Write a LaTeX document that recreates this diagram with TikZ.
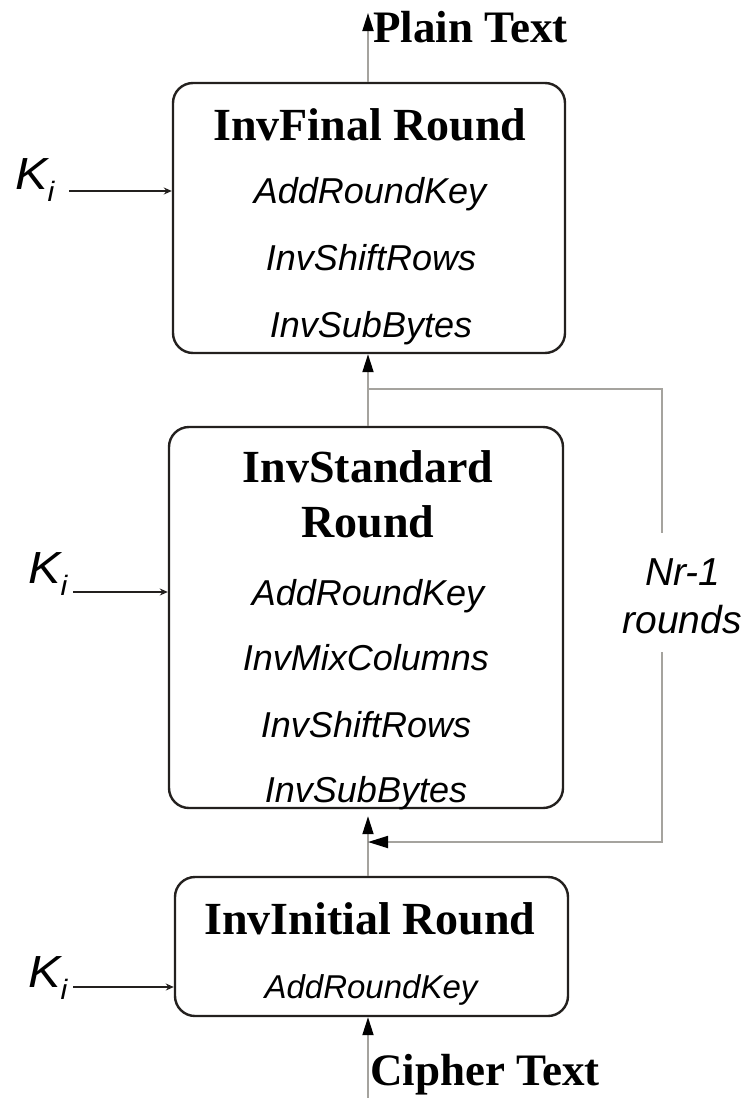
\documentclass[tikz,border=0pt]{standalone}
\usepackage{fontspec}
\setmainfont{Liberation Serif}
\newfontfamily\opfont{Liberation Sans}
\newfontfamily\keyfont{Liberation Sans}[FakeStretch=1.08]
\usetikzlibrary{arrows.meta}
\definecolor{edge}{RGB}{35,32,30}
\definecolor{wire}{RGB}{165,163,158}
\tikzset{
  roundbox/.style={draw=edge, line width=2.4pt, rounded corners=20pt, inner sep=0pt},
  titletext/.style={anchor=base, inner sep=0pt, font=\fontsize{46}{46}\selectfont\bfseries},
  endtext/.style={anchor=base west, inner sep=0pt, font=\fontsize{45}{45}\selectfont\bfseries},
  optext/.style={anchor=base, inner sep=0pt, font=\fontsize{36}{36}\selectfont\opfont\itshape},
  smalloptext/.style={anchor=base, inner sep=0pt, font=\fontsize{33}{33}\selectfont\opfont\itshape},
  labeltext/.style={anchor=base, inner sep=0pt, font=\fontsize{39}{39}\selectfont\opfont\itshape},
  keytext/.style={anchor=base west, inner sep=0pt, font=\fontsize{45}{45}\selectfont\keyfont\itshape},
  keyarrow/.style={draw=edge, line width=2pt, -{Stealth[length=8pt,width=7pt]}},
  wireline/.style={draw=wire, line width=1.8pt},
  flow/.style={wireline, -{Triangle[length=18pt,width=11pt,color=black]}},
}
\newcommand{\keysub}[1]{K\raisebox{-12pt}{\fontsize{28}{28}\selectfont #1}}
\begin{document}
\begin{tikzpicture}[x=1pt,y=-1pt]
\useasboundingbox (0,0) rectangle (749,1098);

% round boxes
\node[roundbox, minimum width=392pt, minimum height=270pt] (final) at (369,218) {};
\node[roundbox, minimum width=394pt, minimum height=381pt] (standard) at (366,617.5) {};
\node[roundbox, minimum width=393pt, minimum height=139pt] (initial) at (371.5,946.5) {};

% final round
\node[titletext] (finaltitle) at (370,140) {InvFinal Round};
\node[optext] (f1) at (370,203) {AddRoundKey};
\node[optext] (f2) at (371,270) {InvShiftRows};
\node[optext] (f3) at (371,337) {InvSubBytes};

% standard round
\node[titletext] (stdtitle1) at (368,482) {InvStandard};
\node[titletext] (stdtitle2) at (368,537) {Round};
\node[optext] (s1) at (368,605) {AddRoundKey};
\node[optext] (s2) at (366,670) {InvMixColumns};
\node[optext] (s3) at (366,737) {InvShiftRows};
\node[optext] (s4) at (366,802) {InvSubBytes};

% initial round
\node[titletext] (inittitle) at (370,934) {InvInitial Round};
\node[smalloptext] (i1) at (371,998) {AddRoundKey};

% plain / cipher text
\node[endtext] (plain) at (373,42) {Plain Text};
\node[endtext] (cipher) at (370,1085) {Cipher Text};

% round keys
\node[keytext] (k1) at (15,189) {\keysub{i}};
\node[keytext] (k2) at (28,583) {\keysub{i}};
\node[keytext] (k3) at (28,987) {\keysub{i}};
\coordinate (k1a) at (69,191);
\coordinate (k2a) at (73,592);
\coordinate (k3a) at (73,987);
\draw[keyarrow] (k1a) -- (k1a -| final.west);
\draw[keyarrow] (k2a) -- (k2a -| standard.west);
\draw[keyarrow] (k3a) -- (k3a -| initial.west);

% data path
\coordinate (cin) at (368,1098);
\coordinate (pout) at (368,13);
\draw[flow] (cin) -- (cin |- initial.south);
\draw[flow, shorten >=7pt] (initial.north -| cin) -- (standard.south -| cin);
\draw[flow] (standard.north -| cin) -- (final.south -| cin);
\draw[flow] (final.north -| cin) -- (pout);

% loop over the standard rounds
\node[labeltext] (nr) at (683,585) {Nr-1};
\node[labeltext] (rounds) at (682,633) {rounds};
\coordinate (split) at (368,389);
\coordinate (gaptop) at (662,533);
\coordinate (gapbot) at (662,652);
\coordinate (merge) at (368,842);
\draw[wireline] (split) -| (gaptop);
\draw[wireline, -{Triangle[length=20pt,width=12pt,color=black]}] (gapbot) |- (merge);
\end{tikzpicture}
\end{document}
